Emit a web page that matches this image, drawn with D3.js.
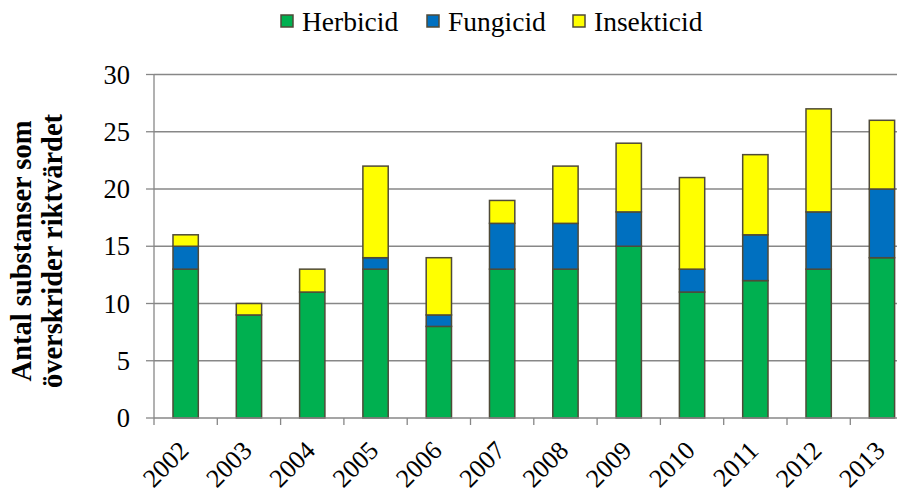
<!DOCTYPE html>
<html>
<head>
<meta charset="utf-8">
<script src="https://cdn.jsdelivr.net/npm/d3@7"></script>
<style>
  body { margin: 0; background: #fff; }
</style>
</head>
<body>
<svg id="chart" width="906" height="492"></svg>
<script>
var years = ["2002","2003","2004","2005","2006","2007","2008","2009","2010","2011","2012","2013"];
var herbicid = [13, 9, 11, 13, 8, 13, 13, 15, 11, 12, 13, 14];
var fungicid = [2, 0, 0, 1, 1, 4, 4, 3, 2, 4, 5, 6];
var insekticid = [1, 1, 2, 8, 5, 2, 5, 6, 8, 7, 9, 6];
var seriesNames = ["Herbicid", "Fungicid", "Insekticid"];
var seriesColors = ["#00b050", "#0070c0", "#ffff00"];
var yTicks = [0, 5, 10, 15, 20, 25, 30];

var FONT = "Liberation Serif";
var svg = d3.select("#chart");
var plotLeft = 154, plotRight = 897, plotTop = 74.5, plotBottom = 418;

var data = years.map(function(y, i) {
  return { year: y, Herbicid: herbicid[i], Fungicid: fungicid[i], Insekticid: insekticid[i] };
});
var stacked = d3.stack().keys(seriesNames)(data);

// band spans 12 equal slots; the last one is cut off at the plot's right edge
var x = d3.scaleBand().domain(years).range([plotLeft, plotLeft + 12 * 63.3]).paddingInner(0.6).paddingOuter(0.3);
var y = d3.scaleLinear().domain([0, 30]).range([plotBottom, plotTop]);
var color = d3.scaleOrdinal().domain(seriesNames).range(seriesColors);
var step = x.step();

// gridlines
svg.append("g").selectAll("line").data(yTicks.slice(1)).join("line")
  .attr("x1", plotLeft).attr("x2", plotRight)
  .attr("y1", function(d) { return y(d); }).attr("y2", function(d) { return y(d); })
  .attr("stroke", "#878787").attr("stroke-width", 1.3);

// y axis
var yAxis = svg.append("g");
yAxis.append("line").attr("x1", plotLeft).attr("x2", plotLeft).attr("y1", plotTop).attr("y2", plotBottom)
  .attr("stroke", "#878787").attr("stroke-width", 1.3);
yAxis.selectAll("line.tick").data(yTicks).join("line").attr("class", "tick")
  .attr("x1", plotLeft - 8).attr("x2", plotLeft)
  .attr("y1", function(d) { return y(d); }).attr("y2", function(d) { return y(d); })
  .attr("stroke", "#878787").attr("stroke-width", 1.3);
yAxis.selectAll("text").data(yTicks).join("text")
  .attr("x", 130).attr("y", function(d) { return y(d) + 9; })
  .attr("text-anchor", "end").attr("font-family", FONT).attr("font-size", 26.5).attr("fill", "#000")
  .text(function(d) { return d; });

// bars
svg.append("g").selectAll("g").data(stacked).join("g")
  .attr("fill", function(d) { return color(d.key); })
  .selectAll("rect").data(function(d) { return d.filter(function(s) { return s[1] > s[0]; }); }).join("rect")
  .attr("x", function(d) { return x(d.data.year); })
  .attr("width", x.bandwidth())
  .attr("y", function(d) { return y(d[1]); })
  .attr("height", function(d) { return y(d[0]) - y(d[1]); })
  .attr("stroke", "#4f4a38")
  .attr("stroke-width", 1.5);

// x axis
var xAxis = svg.append("g");
xAxis.append("line").attr("x1", plotLeft).attr("x2", plotRight).attr("y1", plotBottom).attr("y2", plotBottom)
  .attr("stroke", "#878787").attr("stroke-width", 1.3);
xAxis.selectAll("line.tick").data(years).join("line").attr("class", "tick")
  .attr("x1", function(d) { return x(d) - (step - x.bandwidth()) / 2; })
  .attr("x2", function(d) { return x(d) - (step - x.bandwidth()) / 2; })
  .attr("y1", plotBottom).attr("y2", plotBottom + 7)
  .attr("stroke", "#878787").attr("stroke-width", 1.3);
xAxis.selectAll("text").data(years).join("text")
  .attr("transform", function(d) {
    return "translate(" + (x(d) + x.bandwidth() / 2 + 4.5) + "," + (plotBottom + 34) + ") rotate(-45)";
  })
  .attr("text-anchor", "end").attr("font-family", FONT).attr("font-size", 26).attr("fill", "#000")
  .text(function(d) { return d; });

// y title
var title = svg.append("text")
  .attr("transform", "translate(0,251) rotate(-90)")
  .attr("text-anchor", "middle").attr("font-family", FONT).attr("font-size", 28.5)
  .attr("font-weight", "bold").attr("fill", "#000");
title.append("tspan").attr("x", 0).attr("y", 31).text("Antal substanser som");
title.append("tspan").attr("x", 0).attr("y", 62).text("överskrider riktvärdet");

// legend
var legendX = [281, 427, 573];
var legend = svg.append("g").selectAll("g").data(seriesNames).join("g")
  .attr("transform", function(d, i) { return "translate(" + legendX[i] + ",15)"; });
legend.append("rect").attr("width", 12).attr("height", 12)
  .attr("fill", function(d) { return color(d); }).attr("stroke", "#4f4a38").attr("stroke-width", 1.5);
legend.append("text").attr("x", 21).attr("y", 15.5)
  .attr("font-family", FONT).attr("font-size", 27.5).attr("fill", "#000")
  .text(function(d) { return d; });
</script>
</body>
</html>
